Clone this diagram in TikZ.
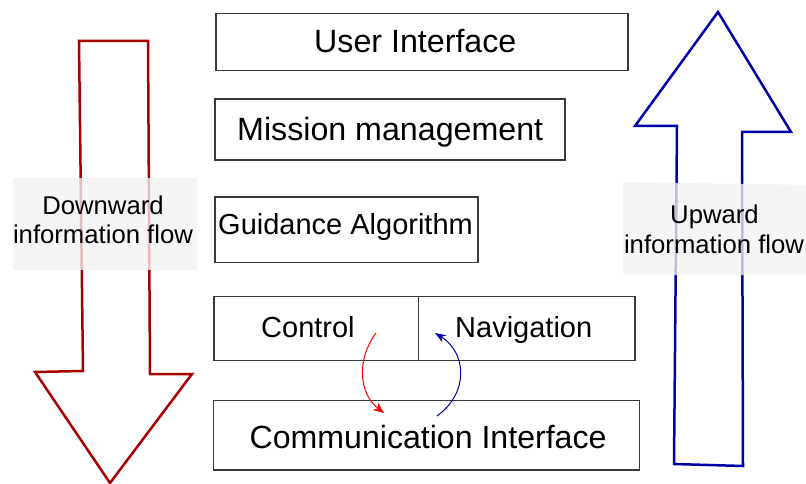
\documentclass[tikz,border=0pt]{standalone}
\usepackage{fontspec}
\setmainfont{Liberation Sans}
\usetikzlibrary{arrows.meta}
\definecolor{downred}{HTML}{A80000}
\definecolor{upblue}{HTML}{0000A8}
\definecolor{boxline}{HTML}{3A3A3A}
\definecolor{labelgray}{HTML}{F2F2F2}
\begin{document}
\begin{tikzpicture}[x=1pt,y=-1pt,
  layer/.style={draw=boxline,line width=1.2pt,fill=white},
  txt/.style={inner sep=0pt,anchor=base west},
  big/.style={font=\fontsize{32.2}{36}\selectfont},
  mid/.style={font=\fontsize{29}{34}\selectfont},
  comm/.style={font=\fontsize{32.1}{36}\selectfont},
  lab/.style={inner sep=0pt,anchor=base,font=\fontsize{25.7}{30}\selectfont},
  labelbox/.style={fill=labelgray,fill opacity=0.78,draw=none},
  flowdown/.style={draw=downred,line width=2.5pt,line join=miter},
  flowup/.style={draw=upblue,line width=2.5pt,line join=miter}
]
\useasboundingbox (0,0) rectangle (806,484);

% large flow arrows
\draw[flowdown] (79,41) -- (148,41) -- (150,374) -- (192,374) -- (110,483)
  -- (35,372) -- (83,371) -- cycle;
\draw[flowup] (718,12) -- (791,132) -- (742,132) -- (743,466) -- (674,464)
  -- (677,126) -- (635,126) -- cycle;

% translucent caption panels over the arrows
\path[labelbox] (13,178) rectangle (197,270);
\path[labelbox] (623,182) -- (806,185) -- (806,275) -- (623,275) -- cycle;
\node[lab] (dn1) at (103,214) {Downward};
\node[lab] (dn2) at (103,243) {information flow};
\node[lab] (up1) at (714.5,223.5) {Upward};
\node[lab] (up2) at (714,253.5) {information flow};

% layer boxes
\draw[layer] (216,13.3) rectangle (628,70.7);
\node[txt,big] (ui) at (314,52.5) {User Interface};

\draw[layer] (215,99) rectangle (565,160);
\node[txt,big] (mm) at (237,140.5) {Mission management};

\draw[layer] (215,197) rectangle (478,262.7);
\node[txt,mid] (ga) at (218,234) {Guidance Algorithm};

\draw[layer] (214,296.7) rectangle (635,360.7);
\draw[draw=boxline,line width=1.2pt] (418.3,296.7) -- (418.3,360.7);
\node[txt,mid] (ctl) at (261,337.5) {Control};
\node[txt,mid] (nav) at (455,337.5) {Navigation};

\draw[layer] (213.3,400.7) rectangle (639.3,470);
\node[txt,comm] (ci) at (249.5,448.5) {Communication Interface};

% exchange between control/navigation and communication
\coordinate (redA) at (376,333);
\coordinate (redB) at (384,413);
\coordinate (blueA) at (437,416);
\coordinate (blueB) at (435,333);
\draw[red,line width=1pt,-{Stealth[length=11pt,width=9pt]}]
  (redA) .. controls (357,358) and (358,393) .. (redB);
\draw[upblue,line width=1pt,-{Stealth[length=11pt,width=8pt]}]
  (blueA) .. controls (470,392) and (466,352) .. (blueB);
\end{tikzpicture}
\end{document}
